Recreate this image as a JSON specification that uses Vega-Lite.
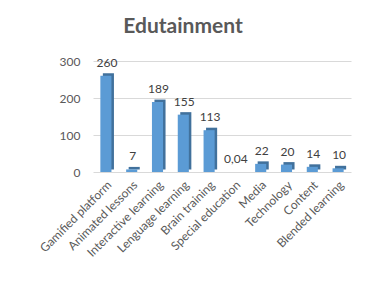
{
  "$schema": "https://vega.github.io/schema/vega-lite/v6.json",
  "width": 258,
  "height": 111,
  "autosize": "none",
  "padding": {"left": 93, "top": 61, "right": 19, "bottom": 114},
  "background": "white",
  "config": {
    "locale": {"number": {"decimal": ",", "thousands": ".", "grouping": [3], "currency": ["", " €"]}},
    "view": {"stroke": null},
    "font": "Lato"
  },
  "title": {"text": "Edutainment", "fontSize": 21, "fontWeight": "bold", "color": "#595959", "anchor": "middle", "dx": -39, "baseline": "alphabetic", "offset": 1, "font": "Lato"},
  "data": {"values": [
    {"category": "Gamified platform", "value": 260},
    {"category": "Animated lessons", "value": 7},
    {"category": "Interactive learning", "value": 189},
    {"category": "Lenguage learning", "value": 155},
    {"category": "Brain training", "value": 113},
    {"category": "Special education", "value": 0.04},
    {"category": "Media", "value": 22},
    {"category": "Technology", "value": 20},
    {"category": "Content", "value": 14},
    {"category": "Blended learning", "value": 10}
  ]},
  "encoding": {
    "x": {"field": "category", "type": "nominal", "sort": null,
      "scale": {"paddingInner": 0, "paddingOuter": 0},
      "axis": {"title": null, "labelAngle": -45, "domain": false, "ticks": false, "labelPadding": 7, "labelFontSize": 12, "labelColor": "#595959", "labelFont": "Lato"}},
    "y": {"field": "value", "type": "quantitative",
      "scale": {"domain": [0, 300]},
      "axis": {"title": null, "values": [0, 100, 200, 300], "domain": false, "ticks": false, "labelPadding": 13, "labelFontSize": 12, "labelColor": "#595959", "gridColor": "#D9D9D9", "labelFont": "Lato"}}
  },
  "layer": [
    {"mark": {"type": "bar", "color": "#41719C", "width": {"band": 0.43}, "xOffset": 2.5, "yOffset": -2.5}},
    {"mark": {"type": "bar", "color": "#5B9BD5", "width": {"band": 0.43}}},
    {"mark": {"type": "text", "baseline": "bottom", "dy": -6, "dx": 1, "fontSize": 12, "color": "#404040", "font": "Lato"},
      "encoding": {"text": {"field": "value", "type": "quantitative", "format": "~g"}}}
  ]
}
